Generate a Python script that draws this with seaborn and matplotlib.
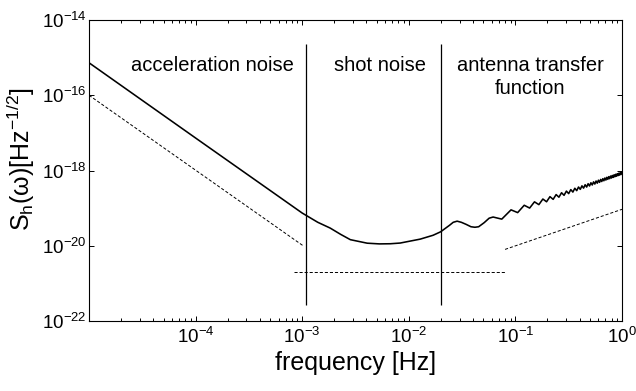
import numpy as np
import pandas as pd
import matplotlib
matplotlib.use("Agg")
import matplotlib.pyplot as plt
import seaborn as sns
from matplotlib.ticker import FixedLocator, LogLocator, NullLocator, LogFormatterSciNotation, NullFormatter

# ---------------- data ----------------
# total sensitivity curve, smooth low-frequency part (Hz, strain/sqrt(Hz))
curve_f = [1.0e-5, 1.0e-4, 5.0e-4, 1.0e-3, 1.4e-3, 1.83e-3, 2.3e-3, 2.83e-3,
           4.07e-3, 5.3e-3, 6.7e-3, 8.3e-3, 1.28e-2, 1.69e-2, 1.99e-2,
           2.41e-2, 2.61e-2, 2.84e-2, 3.11e-2, 3.45e-2, 3.83e-2, 4.17e-2,
           4.52e-2, 5.09e-2, 5.67e-2, 6.18e-2, 7.45e-2, 9.1e-2, 1.05e-1]
curve_v = [7.3e-16, 7.3e-18, 2.95e-19, 7.4e-20, 4.2e-20, 2.95e-20, 2.0e-20, 1.45e-20,
           1.17e-20, 1.12e-20, 1.13e-20, 1.18e-20, 1.5e-20, 1.9e-20, 2.35e-20,
           3.5e-20, 4.2e-20, 4.5e-20, 4.2e-20, 3.7e-20, 3.2e-20, 3.1e-20,
           3.2e-20, 4.1e-20, 5.4e-20, 5.8e-20, 5.1e-20, 9.0e-20, 7.6e-20]

# oscillating high-frequency part: local maxima and minima
peak_f = [0.121, 0.151, 0.181, 0.211, 0.241, 0.271, 0.301, 0.331, 0.361, 0.391,
          0.421, 0.451, 0.481, 0.511, 0.541, 0.571, 0.601, 0.631, 0.661, 0.691,
          0.721, 0.751, 0.781, 0.811, 0.841, 0.871, 0.901, 0.931, 0.961, 0.991]
peak_v = [1.192e-19, 1.468e-19, 1.745e-19, 2.018e-19, 2.290e-19, 2.564e-19, 2.835e-19,
          3.106e-19, 3.375e-19, 3.643e-19, 3.915e-19, 4.182e-19, 4.452e-19, 4.717e-19,
          4.985e-19, 5.252e-19, 5.522e-19, 5.787e-19, 6.057e-19, 6.320e-19, 6.588e-19,
          6.850e-19, 7.116e-19, 7.383e-19, 7.649e-19, 7.914e-19, 8.179e-19, 8.444e-19,
          8.708e-19, 8.979e-19]
trough_f = [0.136, 0.166, 0.196, 0.226, 0.256, 0.286, 0.316, 0.346, 0.376, 0.406,
            0.436, 0.466, 0.496, 0.526, 0.556, 0.586, 0.616, 0.646, 0.676, 0.706,
            0.736, 0.766, 0.796, 0.826, 0.856, 0.886, 0.916, 0.946, 0.976]
trough_v = [1.004e-19, 1.239e-19, 1.476e-19, 1.712e-19, 1.952e-19, 2.190e-19, 2.429e-19,
            2.669e-19, 2.911e-19, 3.152e-19, 3.394e-19, 3.634e-19, 3.879e-19, 4.121e-19,
            4.364e-19, 4.604e-19, 4.848e-19, 5.094e-19, 5.335e-19, 5.577e-19, 5.825e-19,
            6.068e-19, 6.312e-19, 6.556e-19, 6.800e-19, 7.045e-19, 7.290e-19, 7.536e-19,
            7.782e-19]

# dashed asymptotes (end points)
accel_f = [1.0e-5, 1.02e-3]
accel_v = [1.0e-16, 1.0e-20]
shot_f = [8.3e-4, 8.0e-2]
shot_v = [2.0e-21, 2.0e-21]
antenna_f = [8.0e-2, 1.0]
antenna_v = [8.0e-21, 9.3e-20]

# region dividers
divider_f = [1.09e-3, 2.02e-2]
divider_span = [2.6e-22, 2.3e-15]

region_labels = ["acceleration noise", "shot noise", "antenna transfer", "function"]

x_ticks = [1e-4, 1e-3, 1e-2, 1e-1, 1e0]
y_ticks = [1e-22, 1e-20, 1e-18, 1e-16, 1e-14]

# ---------------- style ----------------
sns.set_style("ticks")
plt.rcParams["font.family"] = ["Liberation Sans", "DejaVu Sans"]
plt.rcParams["mathtext.fontset"] = "custom"
plt.rcParams["mathtext.rm"] = "Liberation Sans"
plt.rcParams["mathtext.it"] = "Liberation Sans:italic"
plt.rcParams["mathtext.bf"] = "Liberation Sans:bold"
plt.rcParams["axes.edgecolor"] = "black"
plt.rcParams["axes.linewidth"] = 0.8
plt.rcParams["text.color"] = "black"
plt.rcParams["axes.labelcolor"] = "black"
plt.rcParams["xtick.color"] = "black"
plt.rcParams["ytick.color"] = "black"
plt.rcParams["xtick.labelcolor"] = "black"
plt.rcParams["ytick.labelcolor"] = "black"

fig = plt.figure(figsize=(6.36, 3.91), dpi=100)
ax = fig.add_axes([89 / 636, 70 / 391, 533 / 636, 301 / 391])
ax.set_xscale("log")
ax.set_yscale("log")

# build the full solid curve
osc = pd.DataFrame({"f": peak_f + trough_f, "v": peak_v + trough_v}).sort_values("f")
solid = pd.concat([pd.DataFrame({"f": curve_f, "v": curve_v}), osc], ignore_index=True)

sns.lineplot(data=solid, x="f", y="v", estimator=None, sort=False, color="black",
             lw=1.15, ax=ax, solid_joinstyle="round")

dash = (0, (3.2, 2.0))
for fx, vy in [(accel_f, accel_v), (shot_f, shot_v), (antenna_f, antenna_v)]:
    sns.lineplot(x=fx, y=vy, estimator=None, sort=False, color="black", lw=0.7,
                 linestyle=dash, ax=ax)

ax.vlines(divider_f, divider_span[0], divider_span[1], color="black", lw=0.9)

ax.set_xlim(1e-5, 1)
ax.set_ylim(1e-22, 1e-14)

ax.xaxis.set_major_locator(FixedLocator(x_ticks))
ax.xaxis.set_minor_locator(LogLocator(base=10, subs=np.arange(2, 10), numticks=20))
ax.xaxis.set_minor_formatter(NullFormatter())
ax.xaxis.set_major_formatter(LogFormatterSciNotation())
ax.yaxis.set_major_locator(FixedLocator(y_ticks))
ax.yaxis.set_minor_locator(NullLocator())
ax.yaxis.set_major_formatter(LogFormatterSciNotation())

ax.tick_params(which="both", direction="in", top=True, right=True, width=0.7, color="black")
ax.tick_params(which="major", length=3.6)
ax.tick_params(which="minor", length=2.2)
ax.tick_params(axis="x", which="major", labelsize=13.5, pad=4, labelcolor="black")
ax.tick_params(axis="y", which="major", labelsize=13.5, pad=1.5, labelcolor="black")

for s in ax.spines.values():
    s.set_visible(True)
    s.set_color("black")
    s.set_linewidth(0.8)

ax.set_xlabel("frequency [Hz]", fontsize=18, labelpad=3, color="black")
ax.set_ylabel(r"S$_\mathrm{h}$(ω)[Hz$^{-1/2}$]", fontsize=18, color="black")
ax.yaxis.set_label_coords(-0.097, 0.538)

kw = dict(fontsize=14.5, ha="center", va="baseline", color="black")
ax.text(1.44e-4, 4.4e-16, region_labels[0], **kw)
ax.text(5.34e-3, 4.4e-16, region_labels[1], **kw)
ax.text(1.374e-1, 4.4e-16, region_labels[2], **kw)
ax.text(1.374e-1, 1.06e-16, region_labels[3], **kw)

fig.savefig("out.png", dpi=100)
